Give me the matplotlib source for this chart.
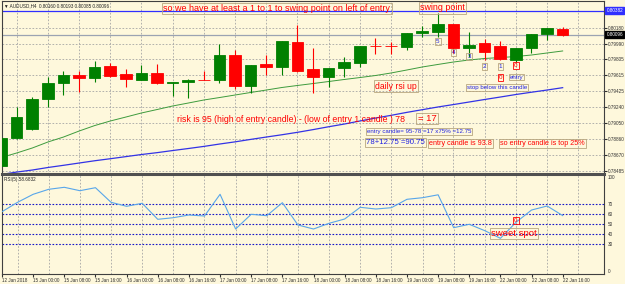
import matplotlib.pyplot as plt
import matplotlib.transforms as mtransforms
import numpy as np

plt.rcParams['font.family'] = ['Liberation Sans', 'DejaVu Sans']

# AUDUSD H4, 12 Jan 2018 16:00 .. 22 Jan 16:00
opens = [0.78540, 0.78872, 0.78979, 0.79335, 0.79524, 0.79619, 0.79583, 0.79726, 0.79631, 0.79560,
         0.79643, 0.79524, 0.79536, 0.79563, 0.79560, 0.79856, 0.79489, 0.79749, 0.79714, 0.80010,
         0.79690, 0.79595, 0.79702, 0.79761, 0.79966, 0.79966, 0.79951, 0.80117, 0.80129, 0.80224,
         0.79939, 0.79998, 0.79963, 0.79797, 0.79939, 0.80105, 0.80160]
highs = [0.78884, 0.79240, 0.79358, 0.79595, 0.79666, 0.79666, 0.79785, 0.79761, 0.79690, 0.79738,
         0.79749, 0.79540, 0.79572, 0.79666, 0.79986, 0.79915, 0.79740, 0.79856, 0.80025, 0.80212,
         0.79939, 0.79705, 0.79832, 0.79966, 0.80058, 0.80010, 0.80120, 0.80200, 0.80354, 0.80227,
         0.80129, 0.80046, 0.80022, 0.79942, 0.80108, 0.80180, 0.80193]
lows = [0.78530, 0.78860, 0.78967, 0.79240, 0.79382, 0.79418, 0.79536, 0.79600, 0.79477, 0.79555,
        0.79512, 0.79370, 0.79347, 0.79555, 0.79524, 0.79453, 0.79406, 0.79619, 0.79619, 0.79660,
        0.79406, 0.79477, 0.79595, 0.79714, 0.79868, 0.79868, 0.79915, 0.80069, 0.80069, 0.79880,
        0.79832, 0.79797, 0.79797, 0.79773, 0.79880, 0.80034, 0.80085]
closes = [0.78872, 0.79121, 0.79335, 0.79524, 0.79619, 0.79583, 0.79714, 0.79607, 0.79572, 0.79643,
          0.79524, 0.79536, 0.79560, 0.79557, 0.79856, 0.79489, 0.79738, 0.79714, 0.80022, 0.79666,
          0.79595, 0.79702, 0.79773, 0.79963, 0.79960, 0.79960, 0.80117, 0.80141, 0.80224, 0.79939,
          0.79975, 0.79892, 0.79809, 0.79939, 0.80105, 0.80176, 0.80096]

ma_fast = [0.78641, 0.78695, 0.78754, 0.78825, 0.78884, 0.78955, 0.79020, 0.79074, 0.79121, 0.79169,
           0.79210, 0.79252, 0.79287, 0.79323, 0.79352, 0.79382, 0.79412, 0.79441, 0.79471, 0.79495,
           0.79518, 0.79542, 0.79566, 0.79589, 0.79613, 0.79643, 0.79678, 0.79714, 0.79744, 0.79773,
           0.79797, 0.79815, 0.79826, 0.79838, 0.79856, 0.79880, 0.79904]
ma_slow = [0.78440, 0.78469, 0.78493, 0.78523, 0.78549, 0.78576, 0.78603, 0.78627, 0.78652, 0.78677,
           0.78699, 0.78724, 0.78748, 0.78773, 0.78801, 0.78827, 0.78856, 0.78884, 0.78911, 0.78940,
           0.78972, 0.79006, 0.79038, 0.79074, 0.79109, 0.79141, 0.79176, 0.79208, 0.79240, 0.79269,
           0.79299, 0.79329, 0.79358, 0.79388, 0.79415, 0.79441, 0.79469]

rsi = [62.6, 72, 80, 85, 87, 83.6, 86.6, 72, 68, 71, 55, 56.6, 59.3, 58.3, 80, 45.3, 60, 58.6, 71.6,
       49.3, 45.3, 51, 55.3, 67, 65.3, 66.6, 75, 76.6, 79.5, 46.6, 50, 43.6, 36, 52, 64.3, 68.3, 58.7]

price_ticks = [0.80180, 0.79990, 0.79805, 0.79615, 0.79425, 0.79240, 0.79050, 0.78860, 0.78670, 0.78485]
time_labels = ['12 Jan 2018', '15 Jan 00:00', '15 Jan 08:00', '15 Jan 16:00', '16 Jan 00:00',
               '16 Jan 08:00', '16 Jan 16:00', '17 Jan 00:00', '17 Jan 08:00', '17 Jan 16:00',
               '18 Jan 00:00', '18 Jan 08:00', '18 Jan 16:00', '19 Jan 00:00', '19 Jan 08:00',
               '19 Jan 16:00', '22 Jan 00:00', '22 Jan 08:00', '22 Jan 16:00']
rsi_levels = [70, 60, 50, 40, 30]
rsi_labels = [100, 70, 60, 50, 40, 30, 0]
swing_level = 0.80382
bid = 0.80096

bg = '#FEF8DC'
grid_c = '#A5A5A5'
bull = '#008000'
bear = '#FF0000'
blue_txt = '#2020E0'
box_c = '#B8A67E'
small = 3.3

n = len(opens)
x = np.arange(n)

fig = plt.figure(figsize=(6.25, 2.84), dpi=100)
fig.patch.set_facecolor(bg)
W, H = 625.0, 284.0
ax = fig.add_axes([2 / W, (H - 173.5) / H, 602 / W, 172.5 / H])
ax2 = fig.add_axes([2 / W, (H - 274.3) / H, 602 / W, 100 / H])

for a in (ax, ax2):
    a.set_facecolor(bg)
    a.set_xlim(0.06, 38.65)
    for i in range(1, 39, 2):
        a.axvline(i, color=grid_c, lw=0.6, ls=(0, (2, 2)), zorder=0)
    for s in a.spines.values():
        s.set_color('#404040')
        s.set_linewidth(0.8)

# main panel
ax.set_ylim(0.78452, 0.80496)
for p in price_ticks:
    ax.axhline(p, color=grid_c, lw=0.6, ls=(0, (2, 2)), zorder=0)
ax.axhline(swing_level, color='#2F2FFF', lw=0.9, zorder=1)
ax.axhline(bid, color='#9BA3B2', lw=0.9, zorder=1)

ax.plot(x, ma_fast, color='#3D9B3D', lw=0.7, zorder=2)
ax.plot(x, ma_slow, color='#3333E6', lw=0.9, zorder=2)

o = np.array(opens)
c = np.array(closes)
colors = [bull if cc >= oo else bear for oo, cc in zip(o, c)]
ax.vlines(x, lows, highs, colors=colors, lw=0.8, zorder=3)
body = np.maximum(np.abs(c - o), 0.000015)
ax.bar(x, body, bottom=np.minimum(o, c), width=0.74, color=colors, edgecolor=colors,
       linewidth=0.6, zorder=4)

ax.yaxis.tick_right()
ax.set_yticks(price_ticks)
ax.set_yticklabels(['%.5f' % p for p in price_ticks])
ax.tick_params(axis='y', labelsize=small, length=2, pad=1, colors='#303030')
ax.set_xticks([])

trans = mtransforms.blended_transform_factory(ax.transAxes, ax.transData)
ax.text(1.004, swing_level, '%.5f' % swing_level, transform=trans, fontsize=small, color='white',
        va='center', ha='left', bbox=dict(boxstyle='square,pad=0.25', fc='#2F2FFF', ec='#2F2FFF'))
ax.text(1.004, bid, '%.5f' % bid, transform=trans, fontsize=small, color='white',
        va='center', ha='left', bbox=dict(boxstyle='square,pad=0.25', fc='black', ec='black'))

ax.text(0.003, 0.985, '\u25BC AUDUSD,H4  0.80160 0.80193 0.80085 0.80096', transform=ax.transAxes,
        fontsize=small, va='top', ha='left', color='#202020')


def note(a, xx, yy, s, col, size, ha='left', ec=box_c):
    a.text(xx, yy, s, color=col, fontsize=size, ha=ha, va='top', zorder=6,
           bbox=dict(boxstyle='square,pad=0.15', fc='none', ec=ec, lw=0.6))


note(ax, 10.4, 0.80461, 'so we have at least a 1 to 1 to swing point on left of entry', bear, 6.45)
note(ax, 26.85, 0.80467, 'swing point', bear, 6.4)
note(ax, 23.97, 0.79542, 'daily rsi up', bear, 6.2)
ax.text(11.28, 0.79145, 'risk is 95 (high of entry candle) - (low of entry 1 candle ) 78', color=bear,
        fontsize=6.3, ha='left', va='top', zorder=6)
note(ax, 26.72, 0.79157, '= 17', bear, 6.8)
note(ax, 23.46, 0.78979, 'entry candle= 95-78 =17 x75% =12.75', blue_txt, 4.4)
note(ax, 23.39, 0.78860, '78+12.75 =90.75', blue_txt, 5.6)
note(ax, 27.43, 0.78849, 'entry candle is 93.8', bear, 5.2)
note(ax, 31.98, 0.78849, 'so entry candle is top 25%', bear, 5.2)
note(ax, 29.87, 0.79500, 'stop below this candle', blue_txt, 4.4)
note(ax, 32.6, 0.79625, 'entry', blue_txt, 4.4)
for idx, yy, s in [(28, 0.80046, '5'), (29, 0.79915, '4'), (30, 0.79868, '3'),
                   (31, 0.79749, '2'), (32, 0.79749, '1')]:
    note(ax, idx, yy, s, blue_txt, 4.5, ha='center')
note(ax, 33, 0.79761, '0', bear, 4.5, ha='center', ec=bear)
note(ax, 32, 0.79619, '0', bear, 4.5, ha='center', ec=bear)

# RSI panel
ax2.set_ylim(0, 100)
for lv in rsi_levels:
    ax2.axhline(lv, color='#1515C8', lw=0.8, ls=(0, (1.5, 1.5)), zorder=1)
ax2.plot(x, rsi, color='#58A6EA', lw=0.8, zorder=3)
ax2.spines['top'].set_linewidth(2.2)
ax2.spines['top'].set_color('#505050')
ax2.set_yticks([])
trans2 = mtransforms.blended_transform_factory(ax2.transAxes, ax2.transData)
for lv in rsi_labels:
    yy = min(max(lv, 3), 97)
    ax2.text(1.006, yy, str(lv), transform=trans2, fontsize=small, va='center', ha='left', color='#303030')
ax2.text(0.003, 0.97, 'RSI(5) 58.6832', transform=ax2.transAxes, fontsize=small, va='top', ha='left',
         color='#202020')
note(ax2, 33, 56, '0', bear, 4.5, ha='center', ec=bear)
note(ax2, 31.4, 45.3, 'sweet spot', bear, 6.8)

ax2.set_xticks(np.arange(0, n, 2))
ax2.set_xticklabels(time_labels, ha='left')
ax2.tick_params(axis='x', labelsize=small, length=2, pad=1, colors='#303030')

fig.savefig('out.png', dpi=100, facecolor=bg)
